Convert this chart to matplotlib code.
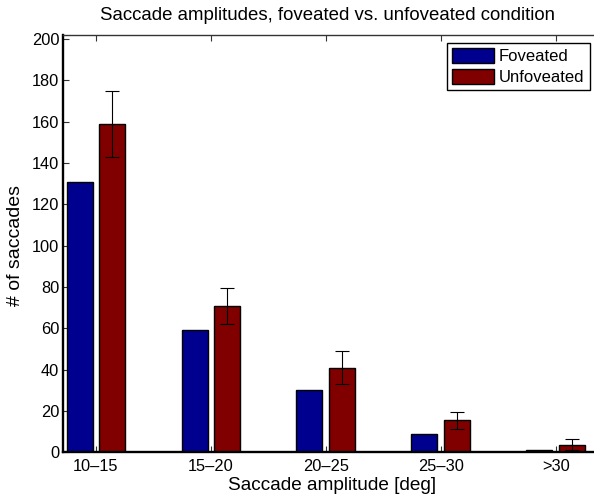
import numpy as np
import matplotlib.pyplot as plt

plt.rcParams['font.family'] = ['Liberation Sans', 'DejaVu Sans']

# Saccade counts per amplitude bin
bins = ["10\u201315", "15\u201320", "20\u201325", "25\u201330", ">30"]
foveated = [131, 59, 30, 9, 1]
unfoveated = [159, 71, 41, 15.5, 3.7]
unfoveated_err = [16, 8.7, 8, 4.2, 2.6]

W, H = 594, 497
fig = plt.figure(figsize=(W / 100, H / 100), dpi=100)
ax = fig.add_axes([63.3 / W, (H - 452.3) / H, (597 - 63.3) / W, (452.3 - 35) / H])

x = np.arange(1, len(bins) + 1)
offset = 0.142
width = 0.226
blue = '#00008F'
red = '#800000'

ax.bar(x - offset, foveated, width, color=blue, edgecolor='black',
       linewidth=1.0, label='Foveated', zorder=2)
ax.bar(x + offset, unfoveated, width, color=red, edgecolor='black',
       linewidth=1.0, label='Unfoveated', zorder=2)
ax.errorbar(x + offset, unfoveated, yerr=unfoveated_err, fmt='none',
            ecolor='black', elinewidth=0.8, capsize=5, capthick=0.8, zorder=3)

ax.set_xlim(0.716, 5.36)
ax.set_ylim(0, 202)
ax.set_xticks(x)
ax.set_xticklabels(bins)
ax.set_yticks(np.arange(0, 201, 20))

ax.tick_params(axis='both', direction='in', labelsize=11.8, width=0.8,
               top=True, right=False, length=4, colors='#333333',
               labelcolor='black')
ax.tick_params(axis='x', pad=5)
ax.tick_params(axis='y', pad=3)

ax.spines['left'].set_linewidth(1.7)
ax.spines['bottom'].set_linewidth(1.7)
ax.spines['top'].set_linewidth(1.0)
ax.spines['top'].set_color('#333333')
ax.spines['right'].set_visible(False)

fig.text(328 / W, 1 - 15 / H, "Saccade amplitudes, foveated vs. unfoveated condition",
         ha='center', va='center', fontsize=13.4)
fig.text(332 / W, 1 - 486 / H, "Saccade amplitude [deg]",
         ha='center', va='center', fontsize=13.7)
fig.text(15.5 / W, 1 - 246 / H, "# of saccades", rotation=90,
         ha='center', va='center', fontsize=14)

leg = ax.legend(loc='upper right', bbox_to_anchor=(589.5 / W, 1 - 43.3 / H),
                bbox_transform=fig.transFigure, borderaxespad=0,
                fontsize=12, handlelength=2.5, handleheight=0.95,
                handletextpad=0.3, labelspacing=0.3, borderpad=0.3,
                fancybox=False, framealpha=1)
leg.get_frame().set_edgecolor('black')
leg.get_frame().set_linewidth(1.0)

fig.savefig("out.png", dpi=100)
